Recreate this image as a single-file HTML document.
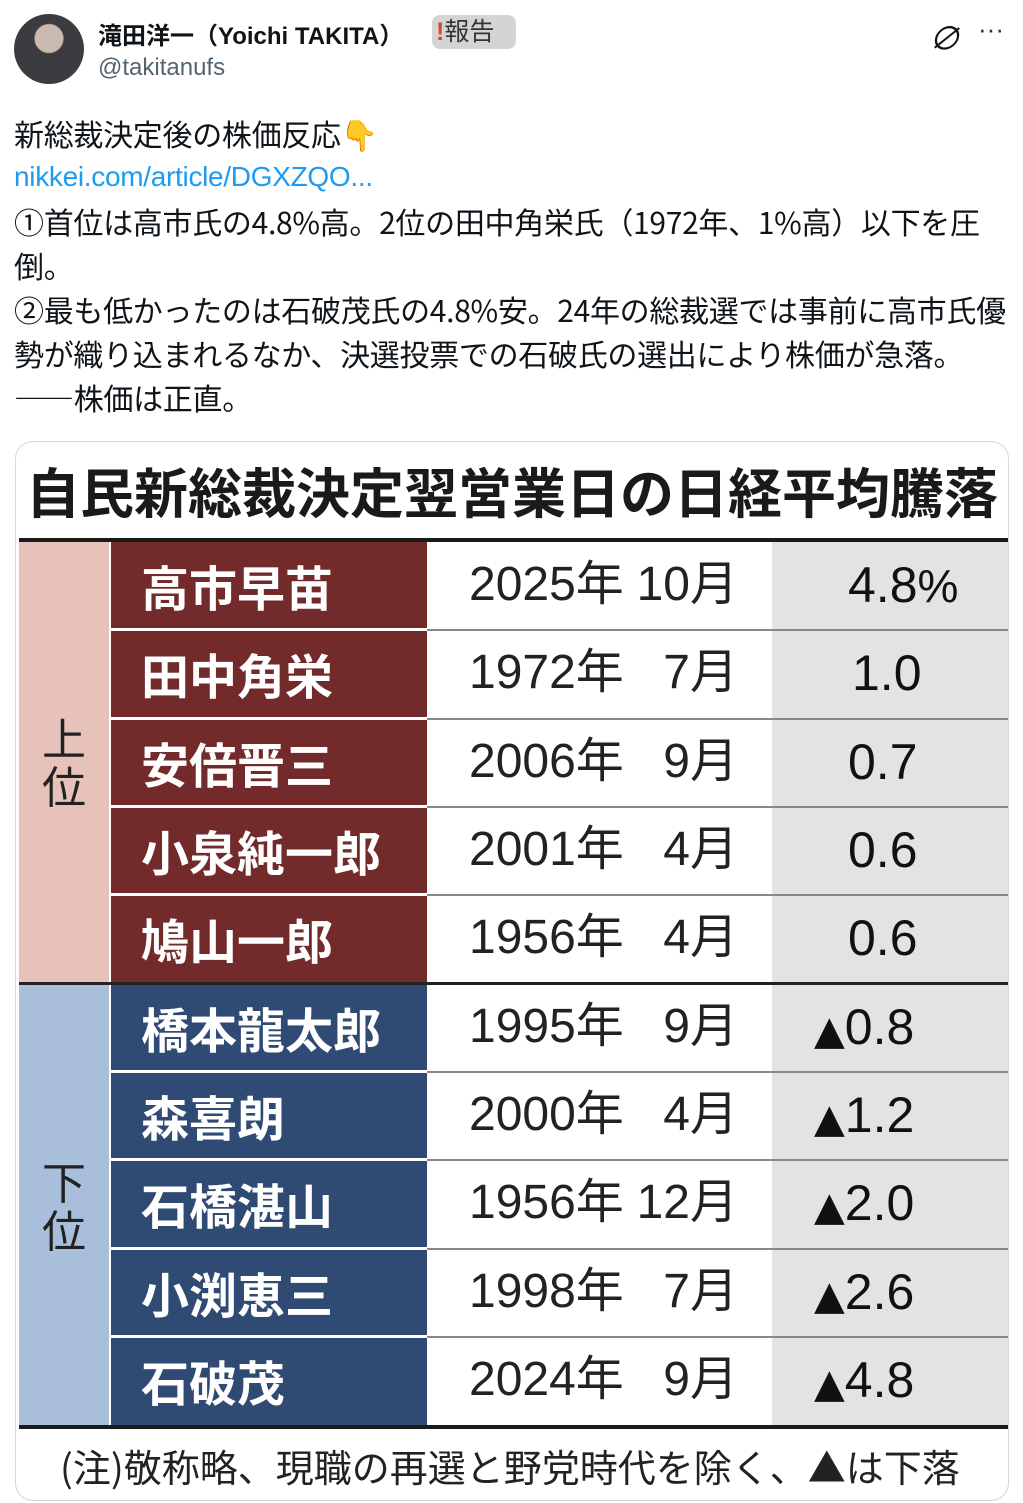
<!DOCTYPE html>
<html><head><meta charset="utf-8">
<style>
*{margin:0;padding:0;box-sizing:border-box}
body{width:1023px;height:1503px;background:#fff;position:relative;overflow:hidden;font-family:"Liberation Sans","Noto Sans CJK JP",sans-serif;color:#0f1419}
.a{position:absolute;white-space:nowrap}
.tw{font-size:30px;line-height:44px;left:14px;font-family:"Noto Sans CJK JP",sans-serif;letter-spacing:-0.3px}
.card{position:absolute;left:15px;top:441px;width:994px;height:1060px;border:1px solid #cfd9de;border-radius:18px;overflow:hidden;background:#fff}
.nm{position:absolute;left:95px;width:316px;color:#fff;font-weight:bold;font-size:48px;font-family:"Noto Sans CJK JP",sans-serif;padding-left:30px;line-height:86px}
.dt{position:absolute;left:411px;width:345px;background:#fff;font-size:48px;color:#222;line-height:86px;font-family:"Liberation Sans","Noto Sans CJK JP",sans-serif}
.vl{position:absolute;left:756px;width:237px;background:#e3e3e5;font-size:50px;color:#111;line-height:86px}
.tri{font-family:"DejaVu Sans",sans-serif;font-size:40px}
.sep{position:absolute;left:95px;width:898px;height:2px;background:#888}
.sepw{position:absolute;left:95px;width:316px;height:3px;background:#fff}
</style></head><body>
<div class="a" style="left:14px;top:14px;width:70px;height:70px;border-radius:50%;background:radial-gradient(circle at 50% 35%,#c9b9ae 0 14px,#3c3c40 15px 60px);"></div>
<div class="a" style="left:98px;top:16px;font-size:24px;font-weight:bold;">滝田洋一（Yoichi TAKITA）</div>
<div class="a" style="left:432px;top:15px;width:84px;height:34px;background:#d4d4d4;border-radius:8px;font-size:25px;line-height:34px;padding-left:4px;color:#333"><span style="color:#e0442b;font-weight:bold">!</span>報告</div>
<div class="a" style="left:98px;top:54px;font-size:24px;color:#536471;">@takitanufs</div>
<div class="a" style="left:928px;top:14px;font-size:32px;font-style:italic;">∅</div>
<div class="a" style="left:978px;top:14px;font-size:26px;color:#333">···</div>
<div class="a tw" style="top:111px">新総裁決定後の株価反応👇</div>
<div class="a tw" style="top:155px;color:#1d9bf0;font-family:'Liberation Sans',sans-serif;font-size:28px">nikkei.com/article/DGXZQO...</div>
<div class="a tw" style="top:199px">①首位は高市氏の4.8%高。2位の田中角栄氏（1972年、1%高）以下を圧</div>
<div class="a tw" style="top:243px">倒。</div>
<div class="a tw" style="top:287px">②最も低かったのは石破茂氏の4.8%安。24年の総裁選では事前に高市氏優</div>
<div class="a tw" style="top:331px">勢が織り込まれるなか、決選投票での石破氏の選出により株価が急落。</div>
<div class="a tw" style="top:375px">――株価は正直。</div>

<div class="card">
<div class="a" style="left:10px;top:12px;font-size:54px;font-weight:bold;color:#1a1a1a;font-family:'Noto Sans CJK JP',sans-serif;line-height:72px">自民新総裁決定翌営業日の日経平均騰落</div>
<div class="a" style="left:3px;top:96px;width:990px;height:4px;background:#1a1a1a"></div>
<div class="a" style="left:3px;top:100px;width:90px;height:441px;background:#e6c2ba"></div>
<div class="a" style="left:3px;top:541px;width:90px;height:442px;background:#a9bedb"></div>
<div class="a" style="left:26px;top:270px;font-size:44px;line-height:48px;width:48px;font-family:'Noto Sans CJK JP',sans-serif;color:#222">上<br>位</div>
<div class="a" style="left:26px;top:714px;font-size:44px;line-height:48px;width:48px;font-family:'Noto Sans CJK JP',sans-serif;color:#222">下<br>位</div>
<div class="a" style="left:93px;top:100px;width:2px;height:883px;background:#fff"></div>

<div class="nm" style="top:100px;height:88px;background:#722a2a">高市早苗</div>
<div class="nm" style="top:188px;height:89px;background:#722a2a">田中角栄</div>
<div class="nm" style="top:277px;height:88px;background:#722a2a">安倍晋三</div>
<div class="nm" style="top:365px;height:88px;background:#722a2a">小泉純一郎</div>
<div class="nm" style="top:453px;height:89px;background:#722a2a">鳩山一郎</div>
<div class="nm" style="top:542px;height:88px;background:#2f4b74">橋本龍太郎</div>
<div class="nm" style="top:630px;height:88px;background:#2f4b74">森喜朗</div>
<div class="nm" style="top:718px;height:89px;background:#2f4b74">石橋湛山</div>
<div class="nm" style="top:807px;height:88px;background:#2f4b74">小渕恵三</div>
<div class="nm" style="top:895px;height:88px;background:#2f4b74">石破茂</div>

<div class="dt" style="top:100px;height:88px"><span class="a" style="left:42px">2025年</span><span class="a" style="right:34px">10月</span></div>
<div class="dt" style="top:188px;height:89px"><span class="a" style="left:42px">1972年</span><span class="a" style="right:34px">7月</span></div>
<div class="dt" style="top:277px;height:88px"><span class="a" style="left:42px">2006年</span><span class="a" style="right:34px">9月</span></div>
<div class="dt" style="top:365px;height:88px"><span class="a" style="left:42px">2001年</span><span class="a" style="right:34px">4月</span></div>
<div class="dt" style="top:453px;height:89px"><span class="a" style="left:42px">1956年</span><span class="a" style="right:34px">4月</span></div>
<div class="dt" style="top:542px;height:88px"><span class="a" style="left:42px">1995年</span><span class="a" style="right:34px">9月</span></div>
<div class="dt" style="top:630px;height:88px"><span class="a" style="left:42px">2000年</span><span class="a" style="right:34px">4月</span></div>
<div class="dt" style="top:718px;height:89px"><span class="a" style="left:42px">1956年</span><span class="a" style="right:34px">12月</span></div>
<div class="dt" style="top:807px;height:88px"><span class="a" style="left:42px">1998年</span><span class="a" style="right:34px">7月</span></div>
<div class="dt" style="top:895px;height:88px"><span class="a" style="left:42px">2024年</span><span class="a" style="right:34px">9月</span></div>

<div class="vl" style="top:100px;height:88px"><span class="a" style="left:76px">4.8<span style="font-size:46px">%</span></span></div>
<div class="vl" style="top:188px;height:89px"><span class="a" style="left:80px">1.0</span></div>
<div class="vl" style="top:277px;height:88px"><span class="a" style="left:76px">0.7</span></div>
<div class="vl" style="top:365px;height:88px"><span class="a" style="left:76px">0.6</span></div>
<div class="vl" style="top:453px;height:89px"><span class="a" style="left:76px">0.6</span></div>
<div class="vl" style="top:542px;height:88px"><span class="a" style="left:42px"><span class="tri">▲</span>0.8</span></div>
<div class="vl" style="top:630px;height:88px"><span class="a" style="left:42px"><span class="tri">▲</span>1.2</span></div>
<div class="vl" style="top:718px;height:89px"><span class="a" style="left:42px"><span class="tri">▲</span>2.0</span></div>
<div class="vl" style="top:807px;height:88px"><span class="a" style="left:42px"><span class="tri">▲</span>2.6</span></div>
<div class="vl" style="top:895px;height:88px"><span class="a" style="left:42px"><span class="tri">▲</span>4.8</span></div>

<div class="sep" style="top:187px"></div><div class="sepw" style="top:186px"></div>
<div class="sep" style="top:276px"></div><div class="sepw" style="top:275px"></div>
<div class="sep" style="top:364px"></div><div class="sepw" style="top:363px"></div>
<div class="sep" style="top:452px"></div><div class="sepw" style="top:451px"></div>
<div class="a" style="left:3px;top:540px;width:990px;height:3px;background:#222"></div>
<div class="sep" style="top:629px"></div><div class="sepw" style="top:628px"></div>
<div class="sep" style="top:717px"></div><div class="sepw" style="top:716px"></div>
<div class="sep" style="top:806px"></div><div class="sepw" style="top:805px"></div>
<div class="sep" style="top:894px"></div><div class="sepw" style="top:893px"></div>
<div class="a" style="left:3px;top:983px;width:990px;height:4px;background:#1a1a1a"></div>
<div class="a" style="left:44px;top:996px;font-size:38px;color:#222;font-family:'Noto Sans CJK JP',sans-serif;line-height:56px">(注)敬称略、現職の再選と野党時代を除く、▲は下落</div>
</div>
</body></html>
